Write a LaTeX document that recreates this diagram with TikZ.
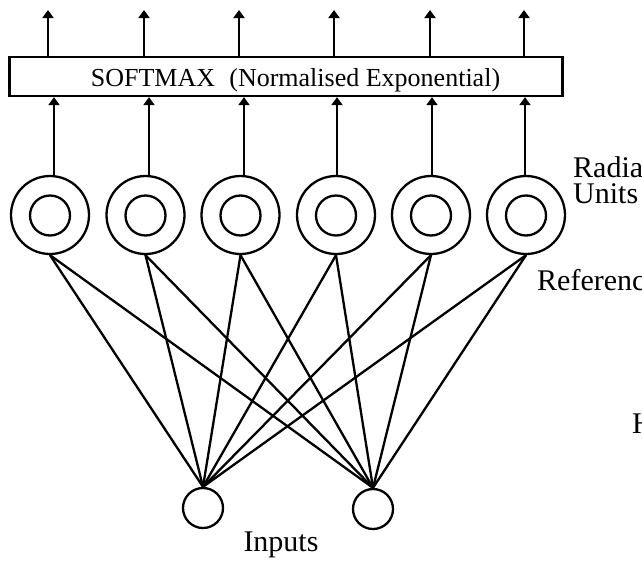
\documentclass[tikz,border=0pt]{standalone}
\usepackage{fontspec}
\setmainfont{Liberation Serif}
\usetikzlibrary{arrows.meta}
\begin{document}
\begin{tikzpicture}[x=1pt,y=-1pt,
  wire/.style={line width=2.3pt,line cap=round},
  outarrow/.style={line width=2.3pt,-{Triangle[width=11pt,length=8pt]}},
  unit/.style={circle,draw,line width=2.3pt,minimum size=78pt,inner sep=0pt},
  core/.style={circle,draw,line width=2.3pt,minimum size=40pt,inner sep=0pt},
  inp/.style={circle,draw,line width=2.3pt,minimum size=40pt,inner sep=0pt},
  lbl/.style={font=\fontsize{30}{30}\selectfont,anchor=base west,inner sep=0pt},
]
% page frame: everything outside is cut off
\clip (0,0) rectangle (642,560);
\fill[white] (0,0) rectangle (642,560);

% softmax layer
\node[draw,line width=2.3pt,minimum width=553pt,minimum height=39pt,inner sep=0pt] (sm) at (286,76.5) {};
\node[font=\fontsize{26}{26}\selectfont,anchor=base,inner sep=0pt] (smtext) at (295.5,86.7)
  {SOFTMAX\hspace{0.55em}(Normalised Exponential)};

% radial units, their outputs and the softmax outputs
\foreach \i/\x/\lo/\hi in {1/50/4/-2,2/145.5/3.5/-1.5,3/240.5/3.5/-1.5,4/336/1/-2,5/431/1/-1,6/526/-1/-2} {
  \node[unit] (r\i) at (\x,215) {};
  \node[core] (k\i) at (\x,215.5) {};
  \draw[outarrow] ([xshift=\lo pt]r\i.north) -- ([xshift=\lo pt]r\i.north |- sm.south);
  \coordinate (o\i) at (\x+\hi,10);
  \draw[outarrow] (o\i |- sm.north) -- (o\i);
}

% input units
\node[inp] (a) at (203,508) {};
\node[inp] (b) at (373,509) {};

% full connections from inputs to radial units
\foreach \i in {1,...,6} {
  \draw[wire] (r\i.south) -- (a.north);
  \draw[wire] (r\i.south) -- (b.north);
}

% labels
\node[font=\fontsize{30}{30}\selectfont,anchor=base,inner sep=0pt] (inlbl) at (281,551) {Inputs};
\node[lbl] (radial) at (573,177) {Radia};
\node[lbl] (units) at (573,203) {Units};
\node[lbl] (refv) at (537,290) {Referenc};
\node[lbl] (hid) at (632,433) {H};
\end{tikzpicture}
\end{document}
